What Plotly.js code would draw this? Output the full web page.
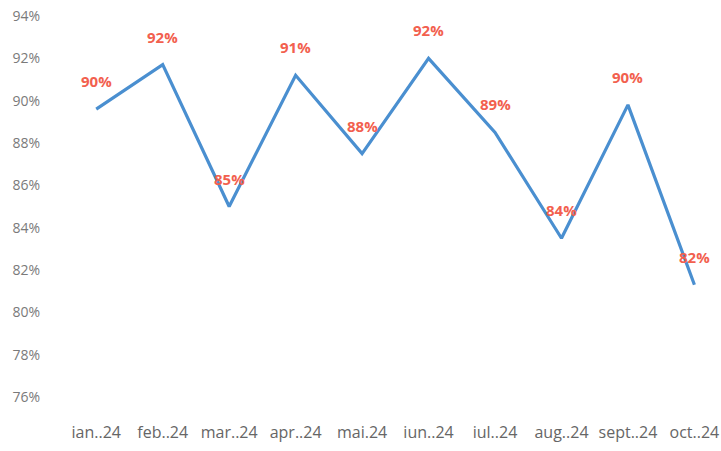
<!DOCTYPE html>
<html>
<head>
<meta charset="utf-8">
<script src="https://cdn.plot.ly/plotly-3.0.1.min.js"></script>
<style>html,body{margin:0;padding:0;background:#fff;}#chart{width:721px;height:451px;}</style>
</head>
<body>
<div id="chart"></div>
<script>
const months = ["ian..24","feb..24","mar..24","apr..24","mai.24","iun..24","iul..24","aug..24","sept..24","oct..24"];
const values = [89.6, 91.7, 85.0, 91.2, 87.5, 92.0, 88.5, 83.5, 89.8, 81.3];
const labels = ["90%","92%","85%","91%","88%","92%","89%","84%","90%","82%"];
const yTicks = [76,78,80,82,84,86,88,90,92,94];
const yTickText = ["76%","78%","80%","82%","84%","86%","88%","90%","92%","94%"];

const trace = {
  x: months.map((m,i)=>i),
  y: values,
  type: "scatter",
  mode: "lines",
  line: {color: "#4a8fd0", width: 3.2},
  hoverinfo: "skip"
};

const annotations = values.map((v,i)=>({
  x: i, y: v, text: "<b>"+labels[i]+"</b>",
  showarrow: false, yshift: 28,
  font: {family: "Open Sans, sans-serif", size: 15, color: "#f2604e"}
}));

const layout = {
  width: 721, height: 451,
  margin: {l: 63, r: 0, t: 16, b: 54},
  paper_bgcolor: "#ffffff",
  plot_bgcolor: "#ffffff",
  showlegend: false,
  xaxis: {
    range: [-0.5, 9.4],
    tickvals: months.map((m,i)=>i),
    ticktext: months,
    showgrid: false, zeroline: false, showline: false, ticks: "",
    ticklabelstandoff: 24,
    tickfont: {family: "Open Sans, sans-serif", size: 16, color: "#666666"}
  },
  yaxis: {
    range: [76, 94],
    tickvals: yTicks,
    ticktext: yTickText,
    showgrid: false, zeroline: false, showline: false, ticks: "",
    ticklabelstandoff: 22,
    tickfont: {family: "Open Sans, sans-serif", size: 14, color: "#7a7a7a"}
  },
  annotations: annotations
};

Plotly.newPlot("chart", [trace], layout, {displayModeBar: false, staticPlot: true});
</script>
</body>
</html>
